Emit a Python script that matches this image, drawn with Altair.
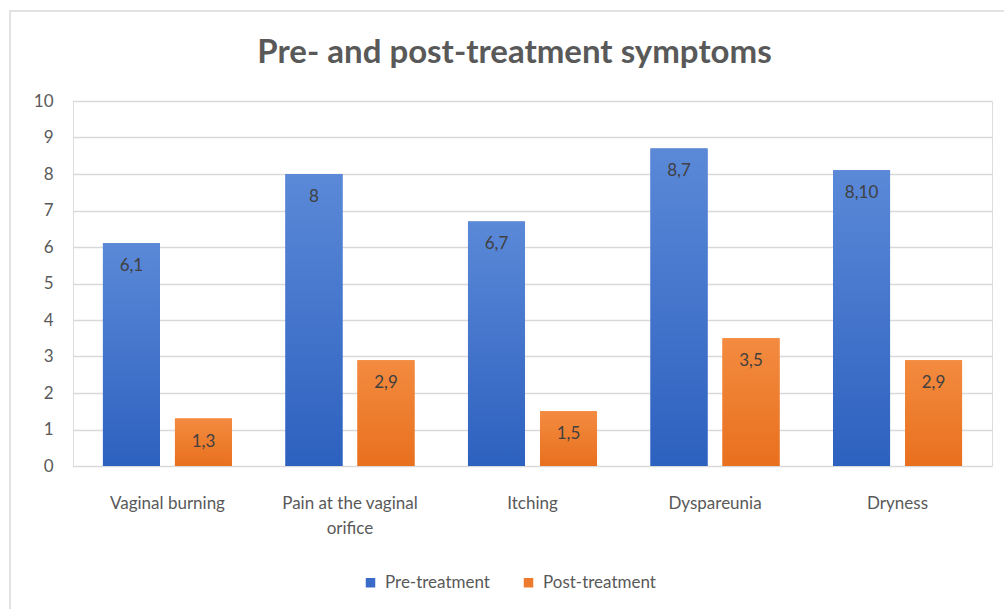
import altair as alt
import pandas as pd

categories = ["Vaginal burning", "Pain at the vaginal orifice", "Itching", "Dyspareunia", "Dryness"]
series_names = ["Pre-treatment", "Post-treatment"]
pre_values = [6.1, 8.0, 6.7, 8.7, 8.1]
post_values = [1.3, 2.9, 1.5, 3.5, 2.9]
pre_labels = ["6,1", "8", "6,7", "8,7", "8,10"]
post_labels = ["1,3", "2,9", "1,5", "3,5", "2,9"]
y_ticks = list(range(0, 11))

rows = []
for c, v, l in zip(categories, pre_values, pre_labels):
    rows.append({"category": c, "series": series_names[0], "value": v, "label": l})
for c, v, l in zip(categories, post_values, post_labels):
    rows.append({"category": c, "series": series_names[1], "value": v, "label": l})
df = pd.DataFrame(rows)

FONT = "Lato"
TXT = "#595959"

x_enc = alt.X(
    "category:N",
    sort=categories,
    scale=alt.Scale(domain=categories, paddingInner=0.293, paddingOuter=0.164),
    axis=alt.Axis(
        title=None, labelAngle=0, domain=False, ticks=False, labelPadding=29,
        labelFontSize=17, labelColor=TXT, labelFont=FONT, labelLineHeight=25,
        labelExpr="datum.label == 'Pain at the vaginal orifice' ? ['Pain at the vaginal', 'orifice'] : datum.label",
    ),
)
xo_enc = alt.XOffset(
    "series:N", sort=series_names,
    scale=alt.Scale(domain=series_names, paddingInner=0.208, paddingOuter=0),
)
y_enc = alt.Y(
    "value:Q",
    scale=alt.Scale(domain=[0, 10], nice=False),
    axis=alt.Axis(
        title=None, values=y_ticks, domain=False, ticks=False, labelPadding=20,
        labelFontSize=17, labelColor=TXT, labelFont=FONT,
        grid=True, gridColor="#d9d9d9", gridWidth=1.3,
    ),
)

base = alt.Chart(df)

legend_bars = base.mark_bar().encode(
    x=x_enc, xOffset=xo_enc, y=y_enc,
    color=alt.Color(
        "series:N", sort=series_names,
        scale=alt.Scale(domain=series_names, range=["#3a6bc8", "#ee7a2e"]),
        legend=alt.Legend(
            title=None, orient="none", direction="horizontal", legendX=289, legendY=473,
            symbolType="square", symbolSize=90, labelFontSize=17, labelColor=TXT,
            labelFont=FONT, columnPadding=30, labelOffset=6, symbolStrokeWidth=0,
        ),
    ),
)

blue_grad = alt.Gradient(
    gradient="linear",
    stops=[alt.GradientStop(color="#5b89d8", offset=0), alt.GradientStop(color="#2d61bf", offset=1)],
    x1=0, x2=0, y1=0, y2=1,
)
orange_grad = alt.Gradient(
    gradient="linear",
    stops=[alt.GradientStop(color="#f38b40", offset=0), alt.GradientStop(color="#e8701e", offset=1)],
    x1=0, x2=0, y1=0, y2=1,
)

pre_bars = base.transform_filter(alt.datum.series == series_names[0]).mark_bar(color=blue_grad).encode(
    x=x_enc, xOffset=xo_enc, y=y_enc
)
post_bars = base.transform_filter(alt.datum.series == series_names[1]).mark_bar(color=orange_grad).encode(
    x=x_enc, xOffset=xo_enc, y=y_enc
)

labels = base.mark_text(baseline="middle", dy=23, fontSize=17, color="#404040", font=FONT).encode(
    x=x_enc, xOffset=xo_enc, y=y_enc, text="label:N"
)

border = alt.Chart(alt.Data(values=[{}])).mark_rect(
    fill="transparent", stroke="#d9d9d9", strokeWidth=1.5
).encode(
    x=alt.value(-63), x2=alt.value(940), y=alt.value(-90), y2=alt.value(515)
)

chart = alt.layer(border, legend_bars, pre_bars, post_bars, labels).properties(
    width=919, height=365,
    title=alt.TitleParams(
        "Pre- and post-treatment symptoms", fontSize=33, font=FONT, fontWeight="bold",
        color=TXT, anchor="middle", offset=0, dy=60, dx=-18,
    ),
    autosize=alt.AutoSizeParams(type="none"),
    padding={"left": 73, "top": 101, "right": 12, "bottom": 143},
).configure_view(stroke=None).configure(background="white")

chart.save("out.html", embed_options={"renderer": "svg", "actions": False})
